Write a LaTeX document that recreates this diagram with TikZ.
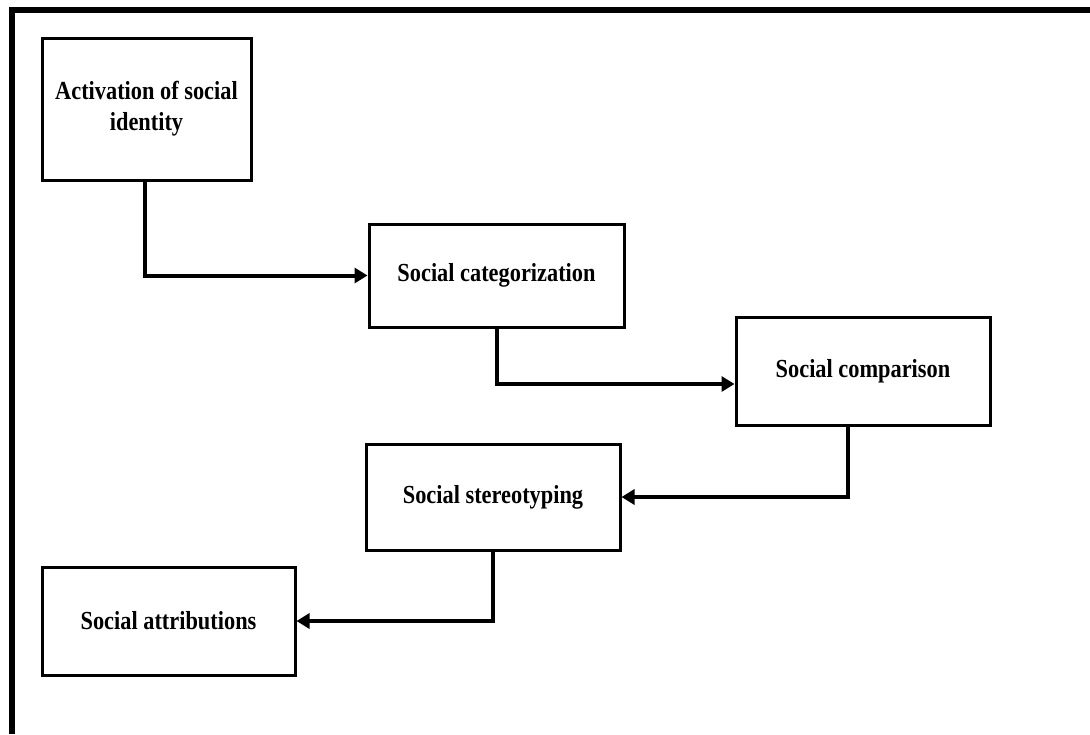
\documentclass[tikz,border=0pt]{standalone}
\usepackage{fontspec}
\setmainfont{Liberation Serif}[FakeStretch=0.86]
\usetikzlibrary{arrows.meta}
\begin{document}
\begin{tikzpicture}[x=1pt,y=-1pt,
  stagebox/.style={draw,line width=3pt,inner sep=0pt,align=center,
    font=\fontsize{26}{31}\selectfont\bfseries},
  flow/.style={line width=4pt,-{Triangle[length=13pt,width=15pt]}}]
  \useasboundingbox (0,0) rectangle (1090,734);
  % open frame: top and left edges
  \draw[line width=6pt] (12,734) -- (12,10) -- (1090,10);
  % stages
  \node[stagebox,minimum width=209,minimum height=142] (act) at (146.5,109) {Activation of social\\identity};
  \node[stagebox,minimum width=255,minimum height=103] (cat) at (496.5,275.5) {Social categorization};
  \node[stagebox,minimum width=254,minimum height=108] (cmp) at (863,371) {Social comparison};
  \node[stagebox,minimum width=254,minimum height=106] (ste) at (493,497) {Social stereotyping};
  \node[stagebox,minimum width=253,minimum height=108] (att) at (168.5,621) {Social attributions};
  % connectors
  \draw[flow] ([xshift=-1.5pt]act.south) |- (cat.west);
  \draw[flow] (cat.south) |- ([yshift=-13pt]cmp.west);
  \draw[flow] ([xshift=-15pt]cmp.south) |- (ste.east);
  \draw[flow] (ste.south) |- (att.east);
\end{tikzpicture}
\end{document}
